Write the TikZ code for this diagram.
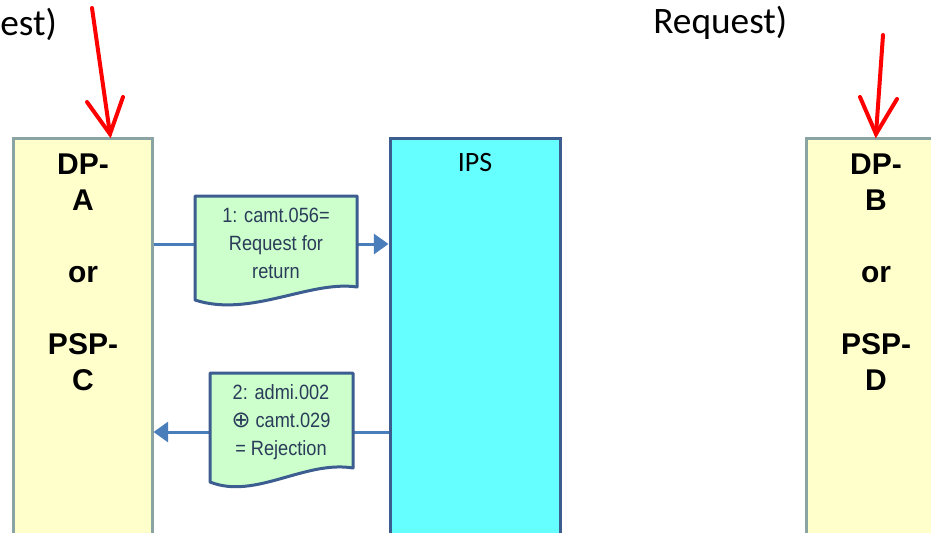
\documentclass[tikz,border=0pt]{standalone}
\usepackage{fontspec}
\setmainfont{Liberation Sans}
\newfontfamily\calib{Carlito}
\newfontfamily\djv{DejaVu Sans}
\newfontfamily\narrowsans[FakeStretch=0.88]{Liberation Sans}
\usetikzlibrary{arrows.meta,fit}
\definecolor{dpfill}{HTML}{FFFFCC}
\definecolor{dpline}{HTML}{8AA4A4}
\definecolor{ipsfill}{HTML}{66FFFF}
\definecolor{navy}{HTML}{3C5D8F}
\definecolor{msgfill}{HTML}{CCFFCC}
\definecolor{msgtext}{HTML}{2B3C5A}
\definecolor{connblue}{HTML}{4A7EBB}
\tikzset{
  party/.style={draw=dpline, line width=2.25pt, fill=dpfill, inner sep=0pt},
  ipsbox/.style={draw=navy, line width=2.25pt, fill=ipsfill, inner sep=0pt},
  msgframe/.style={draw=navy, line width=2.25pt, fill=msgfill, line join=round},
  msgtxt/.style={text=msgtext, font=\narrowsans\fontsize{15.5}{21}\selectfont, align=center, inner sep=0pt},
  partytxt/.style={font=\bfseries\fontsize{22.5}{27}\selectfont, align=center, inner sep=0pt},
  connector/.style={draw=connblue, line width=2.25pt},
  connarrow/.style={connector, -{Triangle[length=11pt,width=15pt]}},
  redarrow/.style={draw=red, line width=3pt, line cap=round, line join=miter},
  toptxt/.style={font=\calib\fontsize{28}{34}\selectfont, inner sep=0pt},
  boxarea/.style={inner sep=0pt}
}
\begin{document}
\begin{tikzpicture}[x=0.75pt,y=-0.75pt]
\useasboundingbox (0,0) rectangle (931,532);
\clip (0,0) rectangle (931,532);
\fill[white] (0,0) rectangle (931,532);
% participants
\node[party, fit={(13,138) (152,560)}] (dpa) {};
\node[partytxt] (dpat) at (83,272) {DP-\\A\\[27pt]or\\[27pt]PSP-\\C};
\node[ipsbox, fit={(390,138) (560,560)}] (ips) {};
\node[font=\calib\fontsize{21}{25}\selectfont, anchor=base, inner sep=0pt] (ipst) at (475,171) {IPS};
\node[party, fit={(806,138) (946,560)}] (dpb) {};
\node[partytxt] (dpbt) at (876,272) {DP-\\B\\[27pt]or\\[27pt]PSP-\\D};
% message 1
\node[boxarea, fit={(195,196) (357,300)}] (m1) {};
\coordinate (y1) at (276,244);
\draw[connector] (dpa.east |- y1) -- (m1.west |- y1);
\draw[connarrow] (m1.east |- y1) -- (ips.west |- y1);
\draw[msgframe] (195,196) -- (357,196) -- (357,287) .. controls (310,280) and (250,318) .. (195,300) -- cycle;
\node[msgtxt] (m1t) at (276,243) {1: camt.056=\\Request for\\return};
% message 2
\node[boxarea, fit={(210,373) (353,482)}] (m2) {};
\coordinate (y2) at (281,432);
\draw[connector] (ips.west |- y2) -- (m2.east |- y2);
\draw[connarrow] (m2.west |- y2) -- (dpa.east |- y2);
\draw[msgframe] (210,373) -- (353,373) -- (353,468) .. controls (305,460) and (255,500) .. (210,482) -- cycle;
\node[msgtxt] (m2t) at (281,422) {2: admi.002\\{\djv\fontsize{17}{21}\selectfont ⊕} camt.029\\= Rejection};
% top texts
\node[toptxt, anchor=base west] (t1) at (0,35) {est)};
\node[toptxt, anchor=base west] (t2) at (653,33) {Request)};
% red arrows
\coordinate (r1s) at (92,8);
\coordinate (r1t) at (110,134);
\draw[redarrow] (r1s) -- (r1t);
\draw[redarrow] (87,102) -- (r1t) -- (123,97);
\coordinate (r2s) at (883,35);
\coordinate (r2t) at (876,134);
\draw[redarrow] (r2s) -- (r2t);
\draw[redarrow] (860,97) -- (r2t) -- (897,99);
\end{tikzpicture}
\end{document}
